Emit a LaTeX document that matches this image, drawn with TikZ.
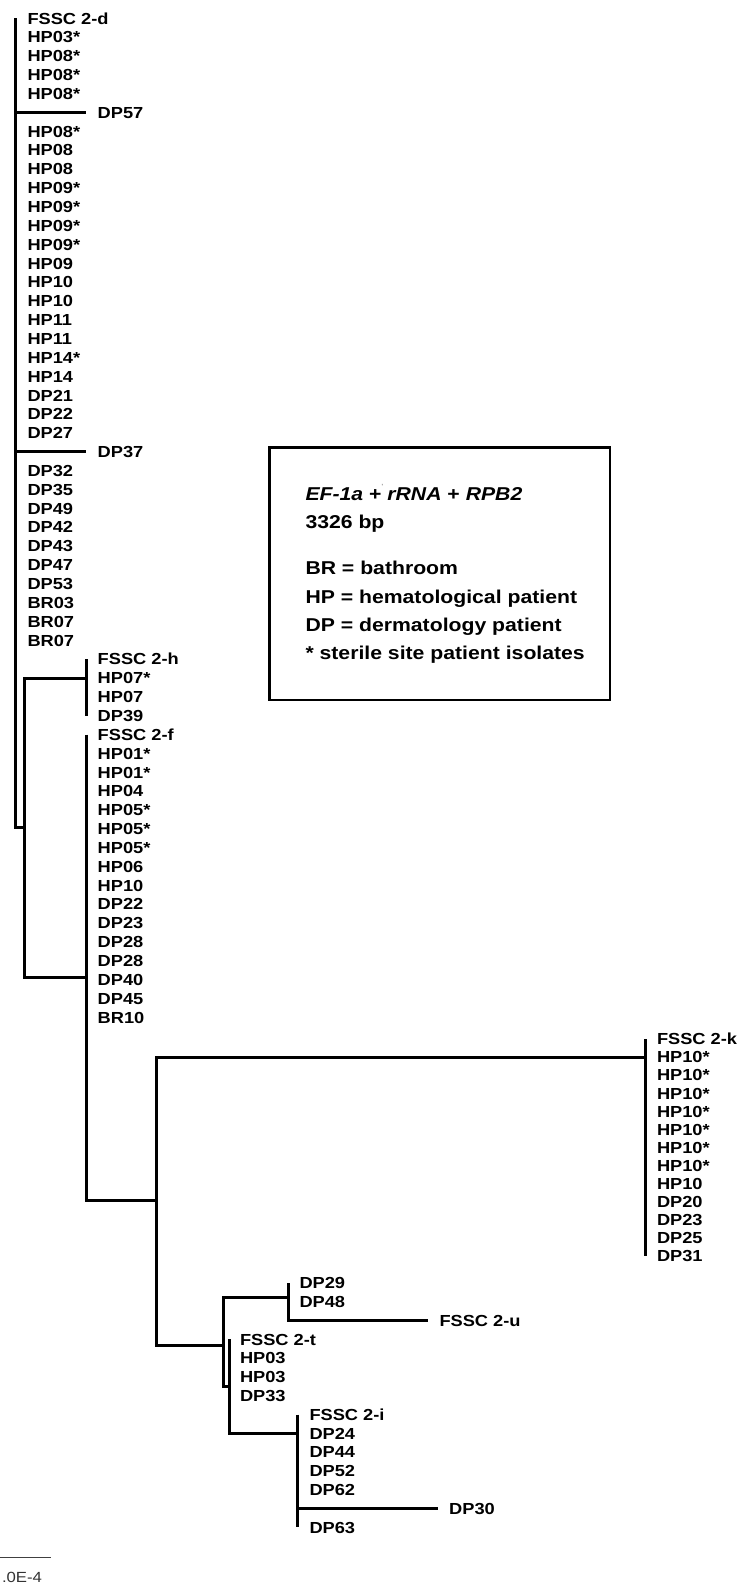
\documentclass[tikz,border=0pt]{standalone}
\usepackage{fontspec}
\usepackage{tikz}
\newfontfamily\treefont{Liberation Sans}[FakeStretch=1.14]

\begin{document}
\begin{tikzpicture}[x=1pt, y=-1pt, line width=3pt, line join=miter,
  leaf/.style={anchor=west, inner sep=0pt, text height=11.4pt, text depth=0pt, font=\treefont\bfseries\fontsize{16}{16}\selectfont},
  legline/.style={anchor=west, inner sep=0pt, text height=13.3pt, text depth=0pt, font=\treefont\bfseries\fontsize{18.6}{18.6}\selectfont},
  tip/.style={shorten >=10pt}]
  \useasboundingbox (0,0) rectangle (741,1583);

  % internal nodes
  \coordinate (root) at (15.5,827);
  \coordinate (hf) at (24,827);
  \coordinate (h) at (86.7,678.05);
  \coordinate (f) at (86.7,977);
  \coordinate (ku) at (156,1200);
  \coordinate (k) at (645.7,1057.1);
  \coordinate (ut) at (223,1345);
  \coordinate (u) at (288,1297);
  \coordinate (t) at (229,1386);
  \coordinate (i) at (297.7,1433.4);

  % FSSC 2-d
  \foreach \lab [count=\n from 0] in {FSSC 2-d, HP03*, HP08*, HP08*, HP08*}
    \node[leaf] (d\n) at (26,{18.3+18.85*\n}) {\lab};
  \node[leaf] (d5) at (96.2,{18.3+18.85*5}) {DP57};
  \foreach \lab [count=\n from 6] in {HP08*, HP08, HP08, HP09*, HP09*, HP09*, HP09*, HP09, HP10, HP10, HP11, HP11, HP14*, HP14, DP21, DP22, DP27}
    \node[leaf] (d\n) at (26,{18.3+18.85*\n}) {\lab};
  \node[leaf] (d23) at (96.2,{18.3+18.85*23}) {DP37};
  \foreach \lab [count=\n from 24] in {DP32, DP35, DP49, DP42, DP43, DP47, DP53, BR03, BR07, BR07}
    \node[leaf] (d\n) at (26,{18.3+18.85*\n}) {\lab};

  % FSSC 2-h and 2-f
  \foreach \lab [count=\n from 34] in {FSSC 2-h, HP07*, HP07, DP39}
    \node[leaf] (h\n) at (96.2,{18.3+18.85*\n}) {\lab};
  \foreach \lab [count=\n from 38] in {FSSC 2-f, HP01*, HP01*, HP04, HP05*, HP05*, HP05*, HP06, HP10, DP22, DP23, DP28, DP28, DP40, DP45, BR10}
    \node[leaf] (f\n) at (96.2,{18.3+18.85*\n}) {\lab};

  % FSSC 2-k
  \foreach \lab [count=\n from 0] in {FSSC 2-k, HP10*, HP10*, HP10*, HP10*, HP10*, HP10*, HP10*, HP10, DP20, DP23, DP25, DP31}
    \node[leaf] (k\n) at (655.5,{1039+18.1*\n}) {\lab};

  % FSSC 2-u, 2-t, 2-i
  \node[leaf] (u0) at (298,1283) {DP29};
  \node[leaf] (u1) at (298,1301.8) {DP48};
  \node[leaf] (u2) at (438,1320.6) {FSSC 2-u};
  \foreach \lab [count=\n from 3] in {FSSC 2-t, HP03, HP03, DP33}
    \node[leaf] (t\n) at (238.5,{1283+18.8*\n}) {\lab};
  \foreach \lab [count=\n from 7] in {FSSC 2-i, DP24, DP44, DP52, DP62}
    \node[leaf] (i\n) at (308,{1283+18.8*\n}) {\lab};
  \node[leaf] (i12) at (447.7,{1283+18.8*12}) {DP30};
  \node[leaf] (i13) at (308,{1283+18.8*13}) {DP63};

  % branches
  \draw (root |- d0) -- (root) -- (hf);
  \draw[tip] (root |- d5) -- (d5);
  \draw[tip] (root |- d23) -- (d23);
  \draw (h) -| (hf) |- (f);
  \draw (h |- h34) -- (h |- h37);
  \draw (f |- f38) -- (f |- ku) -- (ku);
  \draw (k) -| (ku) |- (ut);
  \draw (k |- k0) -- (k |- k12);
  \draw (u) -| (ut) |- (t);
  \draw[tip] (u |- u0) -- (u |- u2) -- (u2);
  \draw (t |- t3) -- (t |- i) -- (i);
  \draw (i |- i7) -- (i |- i13);
  \draw[tip] (i |- i12) -- (i12);

  % legend
  \draw[line width=2.7pt] (269.3,447.3) rectangle (610,700);
  \foreach \txt/\yy [count=\j] in {{\textit{EF-1a} +\rlap{\raisebox{1.2ex}{\fontsize{6}{6}\selectfont\color{black!45}'}} \textit{rRNA} + \textit{RPB2}}/494, 3326 bp/521.7, BR = bathroom/567.7, HP = hematological patient/596.7, DP = dermatology patient/625, * sterile site patient isolates/653.3}
    \node[legline] (leg\j) at (304,\yy) {\txt};

  % scale bar
  \coordinate (sb0) at (0,1557);
  \coordinate (sb1) at (50.7,1557);
  \draw[line width=1pt, black!75] (sb0) -- (sb1);
  \node[anchor=base west, inner sep=0pt, text=black!80, font=\treefont\fontsize{14.7}{14.7}\selectfont] (sblab) at (0.5,1582) {.0E-4};
\end{tikzpicture}
\end{document}
